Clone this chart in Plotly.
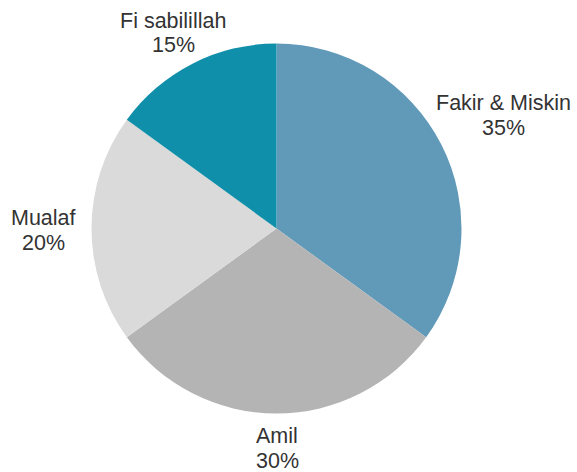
import plotly.graph_objects as go

categories = ["Fakir & Miskin", "Amil", "Mualaf", "Fi sabilillah"]
values = [35, 30, 20, 15]
colors = ["#6199b8", "#b4b4b4", "#dadada", "#0f8fa9"]

W, H = 577, 472
cx, cy, r = 276.5, 228.5, 185

# label centres (px): x, name line y, percent line y
label_pos = [(503, 103, 128), (277, 436, 461), (43, 218, 243), (173, 21, 45)]

fig = go.Figure(go.Pie(
    labels=categories,
    values=values,
    sort=False,
    direction="clockwise",
    rotation=0,
    marker=dict(colors=colors, line=dict(width=0)),
    textinfo="none",
    showlegend=False,
    hoverinfo="label+percent",
    domain=dict(x=[(cx - r) / W, (cx + r) / W], y=[1 - (cy + r) / H, 1 - (cy - r) / H]),
))

font = dict(family="Liberation Sans, Arial, sans-serif", size=21.5, color="#333333")
for cat, val, (lx, ly1, ly2) in zip(categories, values, label_pos):
    for txt, ly in ((cat, ly1), (f"{val}%", ly2)):
        fig.add_annotation(
            text=txt, x=lx / W, y=1 - ly / H,
            xref="paper", yref="paper", xanchor="center", yanchor="middle",
            showarrow=False, font=font,
        )

fig.update_layout(
    width=W, height=H,
    margin=dict(l=0, r=0, t=0, b=0),
    paper_bgcolor="white",
    plot_bgcolor="white",
)

fig.write_html("out.html", config={"displayModeBar": False},
               post_script="document.body.style.margin='0';")
